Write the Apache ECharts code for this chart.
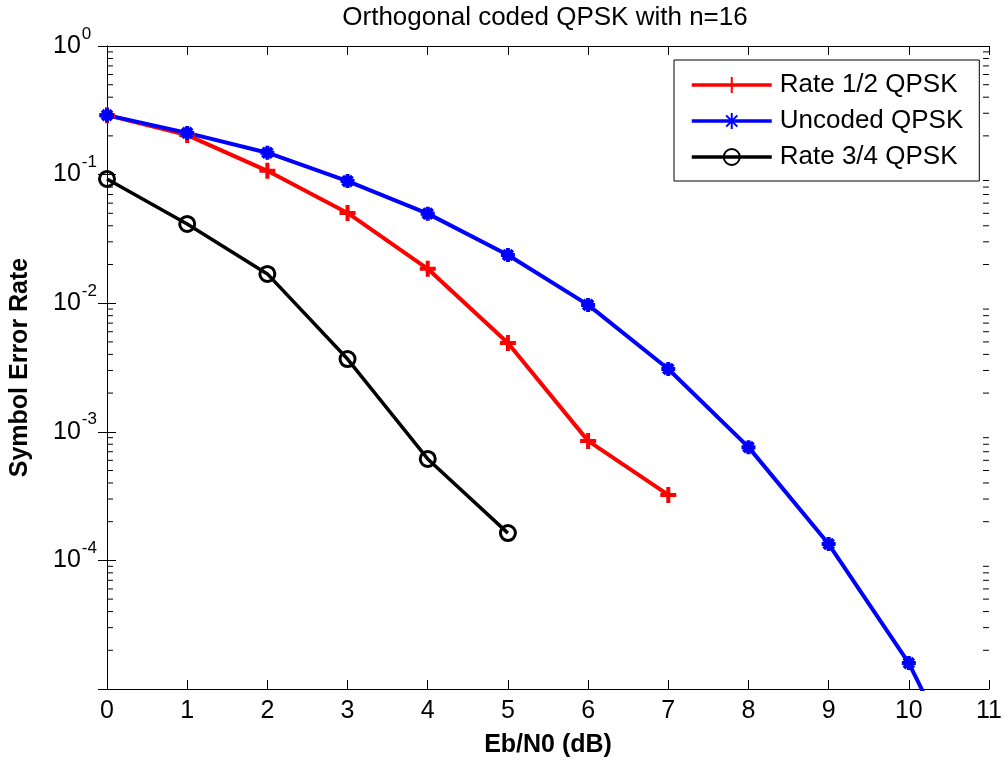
<!DOCTYPE html>
<html>
<head>
<meta charset="utf-8">
<title>Orthogonal coded QPSK with n=16</title>
<script src="https://cdn.jsdelivr.net/npm/echarts@6/dist/echarts.min.js"></script>
<style>
  html, body { margin: 0; padding: 0; background: #fff; }
  #chart { width: 1005px; height: 763px; }
</style>
</head>
<body>
<div id="chart"></div>
<script>
// Eb/N0 sample points (dB)
const ebN0 = [0, 1, 2, 3, 4, 5, 6, 7, 8, 9, 10, 11];

// Symbol error rates per scheme
const rateHalfSer = [0.29, 0.203, 0.107, 0.0503, 0.0185, 0.0049, 0.00085, 0.000323];
const uncodedSer = [0.29, 0.211, 0.148, 0.089, 0.0497, 0.0237, 0.0097, 0.00308, 0.00076, 0.000134, 0.0000159, 0.00000087];
const rateThreeQuarterSer = [0.0925, 0.0413, 0.0169, 0.00368, 0.000615, 0.000163];

const seriesNames = ['Rate 1/2 QPSK', 'Uncoded QPSK', 'Rate 3/4 QPSK'];

// Log-axis range and minor tick positions (2..9 within each decade)
const yMin = 1e-5, yMax = 1;
const decades = [1e-5, 1e-4, 1e-3, 1e-2, 1e-1];
const mantissas = [2, 3, 4, 5, 6, 7, 8, 9];
const minorTickValues = [];
decades.forEach(d => mantissas.forEach(m => minorTickValues.push(m * d)));

const FONT = '"Liberation Sans", Arial, sans-serif';

function pairs(ys) { return ys.map((y, i) => [ebN0[i], y]); }

function yTickLabel(v) {
  const e = Math.round(Math.log10(v));
  if (e <= -5) return '';
  return '{b|10}{s|' + e + '}';
}

const chart = echarts.init(document.getElementById('chart'), null, { renderer: 'canvas' });

const axisLineStyle = { lineStyle: { color: '#000', width: 1 } };

chart.setOption({
  animation: false,
  backgroundColor: '#fff',
  textStyle: { fontFamily: FONT },
  title: {
    text: 'Orthogonal coded QPSK with n=16',
    left: 545,
    top: 5,
    textAlign: 'center',
    padding: 0,
    textStyle: { fontFamily: FONT, fontSize: 26, fontWeight: 'normal', color: '#000' }
  },
  grid: { left: 104, right: 14, top: 46, bottom: 74 },
  legend: {
    data: seriesNames,
    orient: 'vertical',
    left: 674,
    top: 60,
    padding: [12, 16, 11, 16],
    itemWidth: 80,
    itemHeight: 20,
    itemGap: 10,
    backgroundColor: '#fff',
    borderColor: '#000',
    borderWidth: 1,
    borderRadius: 0,
    lineStyle: { width: 3.5 },
    textStyle: { fontFamily: FONT, fontSize: 26, color: '#000', padding: [0, 0, 0, 3] }
  },
  xAxis: [
    {
      type: 'value', min: 0, max: 11, interval: 1, position: 'bottom',
      name: 'Eb/N0 (dB)', nameLocation: 'middle', nameGap: 44,
      nameTextStyle: { fontFamily: FONT, fontSize: 25, fontWeight: 'bold', color: '#000' },
      axisLine: axisLineStyle,
      axisTick: { inside: true, length: 9, lineStyle: { color: '#000' } },
      axisLabel: { fontFamily: FONT, fontSize: 25, color: '#000', margin: 10, showMaxLabel: true, showMinLabel: true },
      splitLine: { show: false }
    },
    {
      type: 'value', min: 0, max: 11, interval: 1, position: 'top',
      axisLine: axisLineStyle,
      axisTick: { inside: true, length: 9, lineStyle: { color: '#000' } },
      axisLabel: { show: false },
      splitLine: { show: false }
    }
  ],
  yAxis: [
    {
      type: 'log', logBase: 10, min: yMin, max: yMax, position: 'left',
      name: 'Symbol Error Rate', nameLocation: 'middle', nameGap: 74,
      nameTextStyle: { fontFamily: FONT, fontSize: 25, fontWeight: 'bold', color: '#000' },
      axisLine: axisLineStyle,
      axisTick: { inside: true, length: 9, lineStyle: { color: '#000' } },
      axisLabel: {
        align: 'left', margin: 54, color: '#000',
        formatter: yTickLabel,
        rich: {
          b: { fontFamily: FONT, fontSize: 25, lineHeight: 25, padding: [8, 0, 8, 0], color: '#000' },
          s: { fontFamily: FONT, fontSize: 17, lineHeight: 17, padding: [0, 0, 24, 1], color: '#000' }
        },
        showMinLabel: true, showMaxLabel: true
      },
      splitLine: { show: false }
    },
    {
      type: 'log', logBase: 10, min: yMin, max: yMax, position: 'right',
      axisLine: axisLineStyle,
      axisTick: { inside: true, length: 9, lineStyle: { color: '#000' } },
      axisLabel: { show: false },
      splitLine: { show: false }
    }
  ],
  series: [
    {
      name: seriesNames[0], type: 'line', data: pairs(rateHalfSer),
      symbol: 'path://M0,5L10,5M5,0L5,10', symbolSize: 16,
      itemStyle: { color: '#ff0000', borderColor: '#ff0000', borderWidth: 4 },
      lineStyle: { color: '#ff0000', width: 4 },
      clip: true
    },
    {
      name: seriesNames[1], type: 'line', data: pairs(uncodedSer),
      symbol: 'path://M0,5L10,5M5,0L5,10M1.5,1.5L8.5,8.5M8.5,1.5L1.5,8.5', symbolSize: 14,
      itemStyle: { color: '#0000ff', borderColor: '#0000ff', borderWidth: 4 },
      lineStyle: { color: '#0000ff', width: 4 },
      clip: true
    },
    {
      name: seriesNames[2], type: 'line', data: pairs(rateThreeQuarterSer),
      symbol: 'circle', symbolSize: 15,
      itemStyle: { color: 'rgba(0,0,0,0)', borderColor: '#000', borderWidth: 3 },
      lineStyle: { color: '#000', width: 3.5 },
      clip: true
    },
    {
      // minor log ticks on the left and right frame edges
      name: 'minorTicks', type: 'custom', silent: true,
      data: minorTickValues.map(v => [0, v]),
      renderItem: function (params, api) {
        const v = api.value(1);
        const l = api.coord([0, v]);
        const r = api.coord([11, v]);
        const style = { stroke: '#000', lineWidth: 1 };
        return {
          type: 'group',
          children: [
            { type: 'line', shape: { x1: l[0], y1: l[1], x2: l[0] + 6, y2: l[1] }, style: style },
            { type: 'line', shape: { x1: r[0], y1: r[1], x2: r[0] - 6, y2: r[1] }, style: style }
          ]
        };
      },
      z: 5
    }
  ]
});
</script>
</body>
</html>
